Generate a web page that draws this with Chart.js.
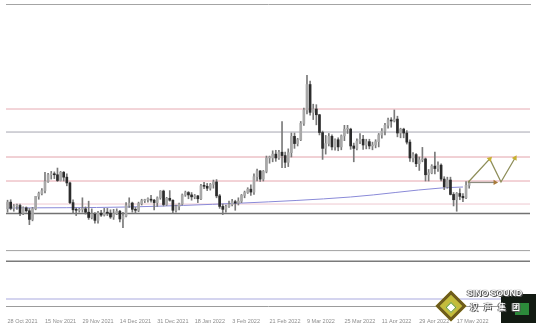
<!DOCTYPE html>
<html><head><meta charset="utf-8">
<script src="https://cdn.jsdelivr.net/npm/chart.js@4.4.1/dist/chart.umd.min.js"></script>
<style>
html,body{margin:0;padding:0;background:#fff;}
#wrap{position:relative;width:536px;height:323px;overflow:hidden;background:#fff;}
canvas{display:block;}
#dia{position:absolute;left:440px;top:295px;width:16px;height:16px;transform:rotate(45deg);background:#c4bc3c;border:3px solid #6e5c1c;box-sizing:content-box;}
#dia2{position:absolute;left:5px;top:5px;width:6px;height:6px;background:#fff;border:1px solid #6a9a2c;}
#box{position:absolute;left:501px;top:294px;width:35px;height:29px;background:#121a12;}
#t1{position:absolute;left:467px;top:288px;font:bold 9px "Liberation Sans",Arial,sans-serif;color:#fff;text-shadow:0 0 1px #222,1px 1px 0 #555,-1px 0 0 #777;letter-spacing:-0.2px;white-space:nowrap;}
#t2{position:absolute;left:470px;top:301px;font:bold 8px "Noto Sans CJK SC",sans-serif;color:#fff;text-shadow:0 0 1px #222,1px 1px 0 #555,-1px 0 0 #777;letter-spacing:6px;white-space:nowrap;}
#g{position:absolute;left:515px;top:303px;width:14px;height:12px;background:#2c8a3a;}
</style></head><body>
<div id="wrap">
<canvas id="c" width="536" height="323"></canvas>
<div id="dia"><div id="dia2"></div></div>
<div id="box"></div><div id="g"></div>
<div id="t1">SINO SOUND</div>
<div id="t2">汉声集团</div>
</div>
<script>
// x-axis date labels (one every 12 bars)
const tickLabels = ["28 Oct 2021","15 Nov 2021","29 Nov 2021","14 Dec 2021","31 Dec 2021","18 Jan 2022","3 Feb 2022","21 Feb 2022","9 Mar 2022","25 Mar 2022","11 Apr 2022","29 Apr 2022","17 May 2022"];
const labelEvery = 12;
const slotCount = 168;

// daily candles (price)
const candleOpen = [1792,1806,1793,1798,1799,1783,1794,1788,1770,1792,1818,1824,1830,1849,1863,1865,1863,1851,1868,1858,1846,1805,1790,1789,1791,1792,1785,1774,1781,1768,1783,1779,1785,1783,1775,1782,1787,1771,1777,1799,1804,1791,1789,1803,1809,1811,1811,1810,1805,1815,1829,1801,1814,1810,1789,1797,1802,1821,1826,1821,1817,1819,1813,1840,1839,1835,1843,1848,1819,1797,1791,1797,1801,1807,1804,1808,1820,1826,1833,1827,1859,1871,1854,1870,1898,1898,1906,1898,1910,1903,1889,1909,1943,1928,1936,1970,1998,2051,1993,2000,1988,1951,1918,1928,1943,1921,1936,1921,1944,1958,1958,1923,1918,1933,1937,1925,1932,1923,1925,1932,1946,1954,1966,1977,1975,1979,1950,1958,1950,1931,1898,1905,1886,1894,1896,1863,1867,1881,1876,1883,1854,1838,1852,1822,1811,1824,1818,1815,1841];
const candleHigh = [1810,1811,1801,1802,1802,1796,1796,1793,1795,1818,1827,1834,1868,1866,1870,1869,1877,1870,1870,1865,1848,1811,1794,1793,1815,1796,1808,1792,1784,1787,1789,1793,1793,1790,1791,1792,1789,1785,1805,1815,1806,1795,1806,1812,1812,1815,1820,1812,1817,1830,1831,1816,1830,1811,1800,1804,1823,1829,1828,1826,1822,1820,1843,1847,1845,1845,1852,1853,1822,1802,1800,1808,1812,1810,1815,1822,1829,1836,1842,1865,1875,1872,1872,1902,1902,1913,1914,1914,1974,1910,1917,1950,1950,1939,1974,2002,2070,2058,2010,2009,1989,1954,1945,1949,1946,1938,1940,1946,1966,1966,1960,1929,1938,1949,1945,1937,1937,1931,1936,1949,1959,1970,1981,1982,1998,1985,1960,1960,1955,1936,1909,1907,1900,1920,1898,1874,1884,1910,1890,1886,1859,1858,1858,1826,1826,1834,1824,1849,1850];
const candleLow = [1785,1790,1787,1791,1778,1780,1785,1759,1767,1790,1812,1821,1825,1847,1854,1855,1849,1850,1850,1840,1803,1782,1778,1785,1785,1781,1770,1771,1762,1762,1776,1777,1778,1772,1770,1780,1765,1753,1775,1795,1785,1782,1786,1800,1805,1806,1806,1790,1797,1812,1798,1799,1808,1782,1785,1790,1800,1818,1813,1810,1813,1805,1811,1834,1830,1831,1835,1815,1793,1780,1785,1795,1798,1789,1800,1805,1815,1824,1820,1822,1850,1849,1850,1867,1887,1890,1891,1895,1878,1878,1880,1900,1918,1923,1934,1966,1990,1987,1978,1967,1946,1895,1906,1923,1915,1914,1913,1915,1934,1949,1916,1890,1915,1928,1916,1917,1917,1915,1919,1921,1939,1946,1960,1962,1973,1942,1940,1940,1927,1891,1890,1880,1872,1890,1850,1850,1865,1865,1870,1850,1832,1835,1821,1798,1787,1811,1807,1813,1835];
const candleClose = [1806,1793,1798,1799,1783,1794,1788,1770,1792,1818,1824,1830,1849,1863,1865,1863,1851,1868,1858,1846,1805,1790,1789,1791,1792,1785,1774,1781,1768,1783,1779,1785,1783,1775,1782,1787,1771,1777,1799,1804,1791,1789,1803,1809,1811,1811,1810,1805,1815,1829,1801,1814,1810,1789,1797,1802,1821,1826,1821,1817,1819,1813,1840,1839,1835,1843,1848,1819,1797,1791,1797,1801,1807,1804,1808,1820,1826,1833,1827,1859,1871,1854,1870,1898,1898,1906,1898,1910,1903,1889,1909,1943,1928,1936,1970,1998,2051,1993,2000,1988,1951,1918,1928,1943,1921,1936,1921,1944,1958,1958,1923,1918,1933,1937,1925,1932,1923,1925,1932,1946,1954,1966,1977,1975,1979,1950,1958,1950,1931,1898,1905,1886,1894,1896,1863,1867,1881,1876,1883,1854,1838,1852,1822,1811,1824,1818,1815,1841,1846];

// horizontal support / resistance levels (price)
const levelPrices = [2000,1952,1900,1850,1802,1782.5,1705,1683,1604];
// slow moving average read at a few bars
const maSlots = [0,38,75,110,139,146];
const maValues = [1793.8,1795.8,1804,1816.7,1835.4,1837.5];
// projected path (arrows)
const zigzagSlots = [147.6,154.6,158.2,162.7];
const zigzagValues = [1847,1896,1848,1898];
const flatSlots = [147.6,156.3];
const flatValues = [1847,1847];

const priceMin = 1589.6, priceMax = 2218.75;

// styles
const levelColors = ['#e6aab2','#a6a6b0','#e2a2aa','#e6a6ae','#eec8d0','#727272','#a2a2a2','#7a7a7a','#c6c6ea'];
const levelWidths = [1,1,1,1,1,1.5,1,1.5,1.5];

const labels = Array.from({length: slotCount}, (_, i) => String(i));
const bodyData = candleOpen.map((o, i) => [Math.min(o, candleClose[i]), Math.max(o, candleClose[i])]);
const wickData = candleHigh.map((h, i) => [candleLow[i], h]);
const bodyColors = candleOpen.map((o, i) => candleClose[i] >= o ? '#a8a8a8' : '#2c2c2c');

const datasets = [
  {type:'line', xAxisID:'xl', yAxisID:'y', data: zigzagSlots.map((s,i)=>({x:s,y:zigzagValues[i]})),
   borderColor:'#8e8e5a', borderWidth:1.3, pointStyle:'triangle', pointRadius:[0,3.2,0,3.2], pointRotation:[0,45,0,30],
   pointBackgroundColor:'#c8b030', pointBorderColor:'#c8b030', pointBorderWidth:0, order:0, clip:false},
  {type:'line', xAxisID:'xl', yAxisID:'y', data: flatSlots.map((s,i)=>({x:s,y:flatValues[i]})),
   borderColor:'#8c8c80', borderWidth:1.3, pointStyle:'triangle', pointRadius:[0,3], pointRotation:[0,90],
   pointBackgroundColor:'#a87a3a', pointBorderColor:'#a87a3a', pointBorderWidth:0, order:0, clip:false},
  {type:'bar', xAxisID:'x', yAxisID:'y', data: bodyData, backgroundColor: bodyColors, barThickness:2, grouped:false, minBarLength:1, order:1},
  {type:'bar', xAxisID:'x', yAxisID:'y', data: wickData, backgroundColor:'#7a7a7a', barThickness:1, grouped:false, order:2},
  {type:'line', xAxisID:'xl', yAxisID:'y', data: maSlots.map((s,i)=>({x:s,y:maValues[i]})),
   borderColor:'#8a8ad8', borderWidth:1, pointRadius:0, tension:0.4, cubicInterpolationMode:'monotone', order:3},
  ...levelPrices.map((p, k) => ({type:'line', xAxisID:'xl', yAxisID:'y',
     data:[{x:-0.5,y:p},{x:slotCount-0.5,y:p}], borderColor:levelColors[k], borderWidth:levelWidths[k], pointRadius:0, order:4}))
];

new Chart(document.getElementById('c'), {
  type:'bar',
  data:{labels, datasets},
  options:{
    responsive:false, animation:false, events:[], devicePixelRatio:1,
    layout:{padding:{left:6,right:6,top:4,bottom:0}},
    plugins:{legend:{display:false}, tooltip:{enabled:false}},
    scales:{
      x:{type:'category', position:'bottom', offset:true, grid:{display:false},
         border:{display:true, color:'#9c9c9c', width:1},
         ticks:{autoSkip:false, maxRotation:0, minRotation:0, align:'start', padding:4, color:'#8c8c8c',
                font:{family:'Liberation Sans', size:5.5},
                callback:(v,i)=> i % labelEvery === 0 ? (tickLabels[i/labelEvery] || '') : ''},
         afterFit:s=>{s.height=17;}},
      x2:{type:'category', position:'top', offset:true, grid:{display:false}, ticks:{display:false},
          border:{display:true, color:'#a4a4a4', width:1}, afterFit:s=>{s.height=0;}},
      xl:{type:'linear', display:false, offset:false, bounds:'data', grace:0, min:-0.5, max:slotCount-0.5},
      y:{type:'linear', display:false, min:priceMin, max:priceMax}
    }
  }
});
</script>
</body></html>
